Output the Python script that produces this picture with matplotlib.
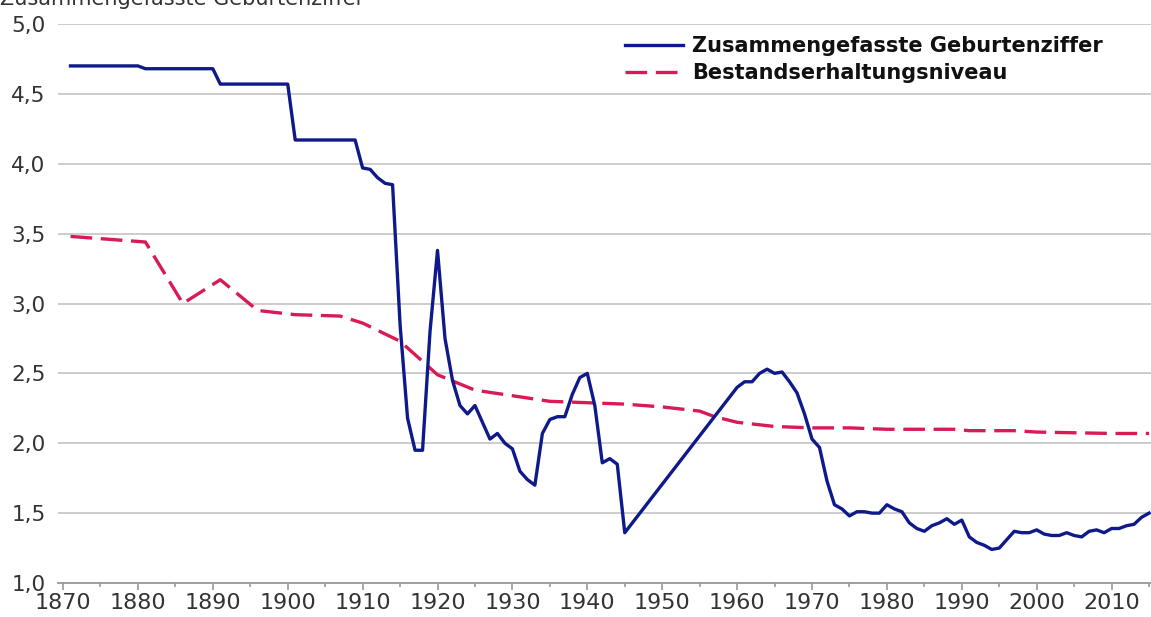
import matplotlib
matplotlib.use("Agg")
import matplotlib.pyplot as plt
from matplotlib.ticker import MultipleLocator, FuncFormatter

# Zusammengefasste Geburtenziffer (total fertility rate)
tfr_years = [1871, 1880, 1881, 1890, 1891, 1900, 1901, 1909, 1910, 1911, 1912, 1913, 1914,
             1915, 1916, 1917, 1918, 1919, 1920, 1921, 1922, 1923, 1924, 1925, 1926, 1927,
             1928, 1929, 1930, 1931, 1932, 1933, 1934, 1935, 1936, 1937, 1938, 1939, 1940,
             1941, 1942, 1943, 1944, 1945,
             1960, 1961, 1962, 1963, 1964, 1965, 1966, 1967, 1968, 1969, 1970, 1971, 1972,
             1973, 1974, 1975, 1976, 1977, 1978, 1979, 1980, 1981, 1982, 1983, 1984, 1985,
             1986, 1987, 1988, 1989, 1990, 1991, 1992, 1993, 1994, 1995, 1996, 1997, 1998,
             1999, 2000, 2001, 2002, 2003, 2004, 2005, 2006, 2007, 2008, 2009, 2010, 2011,
             2012, 2013, 2014, 2015]
tfr_values = [4.70, 4.70, 4.68, 4.68, 4.57, 4.57, 4.17, 4.17, 3.97, 3.96, 3.90, 3.86, 3.85,
              2.85, 2.18, 1.95, 1.95, 2.80, 3.38, 2.75, 2.45, 2.27, 2.21, 2.27, 2.15, 2.03,
              2.07, 2.00, 1.96, 1.80, 1.74, 1.70, 2.07, 2.17, 2.19, 2.19, 2.35, 2.47, 2.50,
              2.27, 1.86, 1.89, 1.85, 1.36,
              2.40, 2.44, 2.44, 2.50, 2.53, 2.50, 2.51, 2.44, 2.36, 2.21, 2.03, 1.97, 1.73,
              1.56, 1.53, 1.48, 1.51, 1.51, 1.50, 1.50, 1.56, 1.53, 1.51, 1.43, 1.39, 1.37,
              1.41, 1.43, 1.46, 1.42, 1.45, 1.33, 1.29, 1.27, 1.24, 1.25, 1.31, 1.37, 1.36,
              1.36, 1.38, 1.35, 1.34, 1.34, 1.36, 1.34, 1.33, 1.37, 1.38, 1.36, 1.39, 1.39,
              1.41, 1.42, 1.47, 1.50]

# Bestandserhaltungsniveau (replacement level)
rep_years = [1871, 1881, 1886, 1891, 1896, 1901, 1907, 1910, 1915, 1920, 1925, 1930, 1935,
             1940, 1945, 1950, 1955, 1957, 1960, 1965, 1970, 1975, 1980, 1985, 1989, 1991,
             1995, 1997, 2000, 2005, 2010, 2015]
rep_values = [3.48, 3.44, 3.00, 3.17, 2.95, 2.92, 2.91, 2.86, 2.73, 2.49, 2.38, 2.34, 2.30,
              2.29, 2.28, 2.26, 2.23, 2.19, 2.15, 2.12, 2.11, 2.11, 2.10, 2.10, 2.10, 2.09,
              2.09, 2.09, 2.08, 2.075, 2.07, 2.07]

series_labels = ["Zusammengefasste Geburtenziffer", "Bestandserhaltungsniveau"]
y_axis_title = "Zusammengefasste Geburtenziffer"

plt.rcParams['font.family'] = ['DejaVu Sans']
fig = plt.figure(figsize=(11.51, 6.17), dpi=100)
ax = fig.add_axes([58/1151, 1-583/617, 1-58/1151, (583-24)/617])

ax.plot(tfr_years, tfr_values, color='#0f1a8a', lw=2.4, solid_joinstyle='round',
        label=series_labels[0], zorder=3)
rl, = ax.plot(rep_years, rep_values, color='#d81b55', lw=2.4, label=series_labels[1],
              zorder=2, dash_capstyle='butt')
rl.set_dashes((6.5, 2.6))

ax.set_xlim(1869.33, 2015.26)
ax.set_ylim(1.0, 5.0)
ax.yaxis.set_major_locator(MultipleLocator(0.5))
ax.yaxis.set_major_formatter(FuncFormatter(lambda v, p: f"{v:.1f}".replace('.', ',')))
ax.xaxis.set_major_locator(MultipleLocator(10))
ax.xaxis.set_minor_locator(MultipleLocator(5))

ax.grid(axis='y', color='#c8c8c8', lw=1.3)
ax.set_axisbelow(True)
for s in ['top', 'right', 'left']:
    ax.spines[s].set_visible(False)
ax.spines['bottom'].set_color('#999999')
ax.spines['bottom'].set_linewidth(1.3)

ax.tick_params(axis='y', length=0, pad=9, labelsize=15.5, labelcolor='#333333')
ax.tick_params(axis='x', which='major', length=5, width=1.2, color='#999999', pad=2,
               labelsize=16, labelcolor='#333333')
ax.tick_params(axis='x', which='minor', length=3, width=1.2, color='#999999')

leg = ax.legend(loc='upper left', bbox_to_anchor=(0.502, 1.012), frameon=False,
                prop={'weight': 'bold', 'size': 15}, handlelength=2.75,
                handletextpad=0.45, labelspacing=0.35)
for t in leg.get_texts():
    t.set_color('#111111')

fig.text(0.0, 1 - 5/617, y_axis_title, fontsize=15, color='#333333', ha='left',
         va='baseline')

fig.savefig('out.png', dpi=100)
